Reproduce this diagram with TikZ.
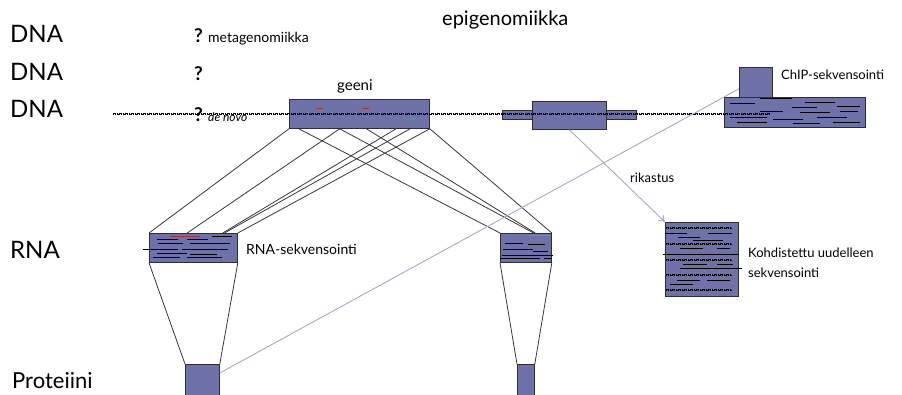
\documentclass[tikz,border=0pt]{standalone}
\usepackage{fontspec}
\setmainfont{Lato}
\usetikzlibrary{calc,arrows.meta}

\definecolor{laatikko}{RGB}{111,114,168}
\definecolor{reuna}{RGB}{45,45,55}
\definecolor{yhteys}{RGB}{55,55,55}
\definecolor{vaalea}{RGB}{168,168,196}
\definecolor{punainen}{RGB}{175,45,55}
\definecolor{turkoosi}{RGB}{70,165,155}
\newcommand{\koko}[1]{\fontsize{#1}{#1}\selectfont}

\begin{document}
\begin{tikzpicture}[x=1pt,y=-1pt,
  laatikko/.style={draw=reuna, fill=laatikko, line width=0.8pt, inner sep=0pt, anchor=north west},
  yhteys/.style={draw=yhteys, line width=0.8pt},
  vaalea/.style={draw=vaalea, line width=0.9pt},
  lukema/.style={black, line width=0.8pt},
  dna/.style={black, line width=0.6pt, dash pattern=on 3pt off 1pt on 1pt off 1pt},
  teksti/.style={anchor=base west, inner sep=0pt}]

\useasboundingbox (0,0) rectangle (902,394);

% Otsikot vasemmalla
\node[teksti, font=\koko{24}] (dna1) at (10,42) {DNA};
\node[teksti, font=\koko{24}] (dna2) at (10,80) {DNA};
\node[teksti, font=\koko{24}] (dna3) at (10,117) {DNA};
\node[teksti, font=\koko{24}] (rna) at (10,258) {RNA};
\node[teksti, font=\koko{22}] (prot) at (12,388) {Proteiini};

% Kysymysmerkit
\node[teksti, font=\koko{19}\bfseries] (kys1) at (194,42) {?};
\node[teksti, font=\koko{19}\bfseries] (kys2) at (194,80) {?};
\node[teksti, font=\koko{19}\bfseries] (kys3) at (194,121) {?};
\node[teksti, font=\koko{14}] (meta) at (208,42) {metagenomiikka};
\node[teksti, font=\koko{12}\itshape] (denovo) at (208,121) {de novo};

% Epigenomiikka
\node[teksti, font=\koko{20}] (epi) at (442,25) {epigenomiikka};

% Geeni
\node[laatikko, minimum width=140pt, minimum height=29pt] (geeni) at (289,99) {};
\node[teksti, font=\koko{15}] (geeniteksti) at (337,90) {geeni};
\draw[punainen, line width=1pt] (316,108) -- (323,108);
\draw[punainen, line width=1pt] (362,108) -- (369,108);
\draw[turkoosi, line width=1pt] (410,118) -- (416,118);

% Toinen geeni
\node[laatikko, minimum width=30pt, minimum height=9pt] (g2vasen) at (502,110) {};
\node[laatikko, minimum width=30pt, minimum height=9pt] (g2oikea) at (606,110) {};
\node[laatikko, minimum width=74pt, minimum height=28pt] (geeni2) at (532,101) {};

% ChIP
\node[laatikko, minimum width=141pt, minimum height=30pt] (chipsuuri) at (724,97) {};
\node[laatikko, minimum width=33pt, minimum height=30pt] (chippieni) at (739,67) {};
\node[teksti, font=\koko{13}] (chipteksti) at (781,79) {ChIP-sekvensointi};
\foreach \a/\b/\y in {760/792/98, 805/835/102, 730/755/103, 792/817/107, 837/860/106,
  760/783/111, 800/830/112, 840/858/111, 730/767/117, 773/803/119, 817/847/117,
  737/767/122, 793/820/123, 833/860/122}
  \draw[lukema] (\a,\y) -- (\b,\y);

% DNA-juoste
\draw[dna] (113,113.5) -- (770,113.5);
\draw[dna, dash phase=2pt] (113,114.5) -- (770,114.5);

% RNA-laatikot
\node[laatikko, minimum width=88pt, minimum height=29pt] (rna1) at (149,233) {};
\node[laatikko, minimum width=51pt, minimum height=29pt] (rna2) at (500,233) {};
\node[teksti, font=\koko{14}] (rnateksti) at (246,254) {RNA-sekvensointi};
\draw[punainen, line width=1pt] (170,236) -- (200,236);
\foreach \a/\b/\y in {212/232/236, 157/178/239, 187/208/239, 158/183/243, 190/230/243,
  143/178/249, 182/228/249, 157/187/253, 190/217/254, 153/180/257, 187/222/257}
  \draw[lukema] (\a,\y) -- (\b,\y);
\draw[turkoosi, line width=1pt] (529,235) -- (550,235);
\foreach \a/\b/\y in {505/523/243, 528/545/244, 503/533/249, 533/548/251,
  502/553/255, 500/540/258, 544/552/258}
  \draw[lukema] (\a,\y) -- (\b,\y);

% Geenista RNA:han
\foreach \g/\r in {0/0, 0.36/0.43, 0.76/0.83, 0.86/0.85, 1/1}
  \draw[yhteys] ($(geeni.south west)!\g!(geeni.south east)$) -- ($(rna1.north west)!\r!(rna1.north east)$);
\foreach \g/\r in {0.07/0, 0.36/0.65, 0.55/0.68, 1/1}
  \draw[yhteys] ($(geeni.south west)!\g!(geeni.south east)$) -- ($(rna2.north west)!\r!(rna2.north east)$);

% Proteiinit
\node[laatikko, minimum width=34pt, minimum height=40pt] (prot1) at (185,364) {};
\node[laatikko, minimum width=17pt, minimum height=40pt] (prot2) at (517,364) {};
\draw[yhteys] (rna1.south west) -- (prot1.north west);
\draw[yhteys] (rna1.south east) -- (prot1.north east);
\draw[yhteys] (rna2.south west) -- (prot2.north west);
\draw[yhteys] (rna2.south east) -- (prot2.north east);

% Proteiinista ChIP:iin
\coordinate (p1) at ($(prot1.north east)+(0,9)$);
\coordinate (c1) at ($(chippieni.south west)+(0,-9)$);
\draw[vaalea] (p1) -- (c1);

% Rikastus
\node[laatikko, minimum width=73pt, minimum height=74pt] (kohd) at (665,222) {};
\draw[vaalea, -{To[length=6pt,width=8pt]}] (geeni2.south) -- (kohd.north west);
\node[teksti, font=\koko{13}] (rikastus) at (630,182) {rikastus};
\foreach \y in {228,244,260,275,290} {
  \draw[dna] (666,\y-0.5) -- (732,\y-0.5);
  \draw[dna, dash phase=2pt] (666,\y+0.5) -- (732,\y+0.5);
}
\foreach \a/\b/\y in {665/687/233, 708/732/233, 678/700/237, 693/723/240, 680/703/248,
  717/730/248, 663/738/254, 683/707/264, 717/733/264, 680/742/268, 677/700/280,
  707/730/280, 670/693/284}
  \draw[lukema] (\a,\y) -- (\b,\y);
\node[teksti, font=\koko{13}] (kohdteksti) at (748,257) {Kohdistettu uudelleen};
\node[teksti, font=\koko{13}] (kohdteksti2) at (748,277) {sekvensointi};

\end{tikzpicture}
\end{document}
